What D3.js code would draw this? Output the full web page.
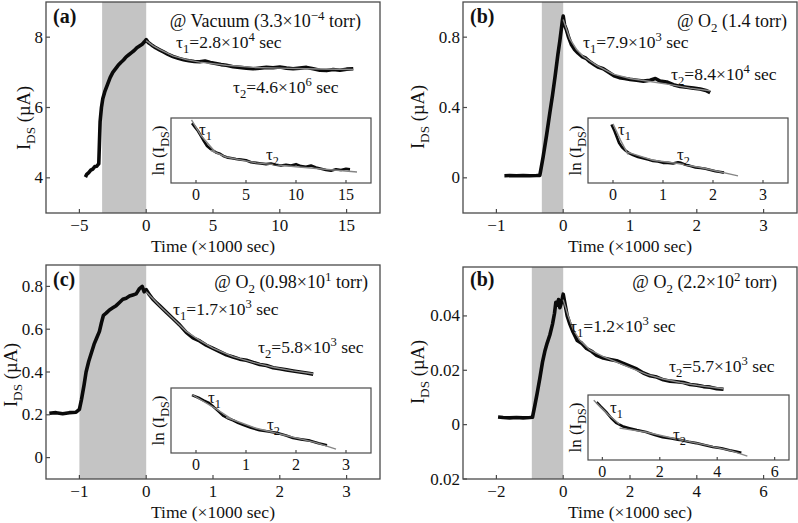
<!DOCTYPE html>
<meta charset="utf-8">
<style>
  body { margin: 0; background: #fff; }
  svg text { font-family: "Liberation Serif", "Times New Roman", serif; fill: #111; }
  .frame { fill: none; stroke: #4a4a4a; stroke-width: 1.3px; }
  .tick { stroke: #4a4a4a; stroke-width: 1.2px; }
  .shade { fill: #c4c4c4; }
  .data { fill: none; stroke: #0a0a0a; stroke-width: 3.6px; stroke-linejoin: round; }
  .fit { fill: none; stroke: #8a8a8a; stroke-width: 1.4px; }
  .idata { fill: none; stroke: #0a0a0a; stroke-width: 2.6px; stroke-linejoin: round; }
  .ifit { fill: none; stroke: #858585; stroke-width: 1.4px; }
</style>
<body>
<div id="chart"></div>
<script src="https://d3js.org/d3.v7.min.js"></script>
<script>
// ---- panel (a) : vacuum
var a_data = [[-4.55,4.02],[-4.45,4.1],[-4.3,4.15],[-4.15,4.22],[-4.0,4.25],[-3.85,4.32],[-3.7,4.33],[-3.6,4.38],[-3.55,4.4],[-3.5,5.0],[-3.45,5.6],[-3.35,6.0],[-3.25,6.25],[-3.1,6.45],[-2.9,6.65],[-2.7,6.85],[-2.5,7.0],[-2.3,7.1],[-2.1,7.2],[-1.9,7.28],[-1.7,7.35],[-1.5,7.44],[-1.3,7.5],[-1.1,7.56],[-0.9,7.62],[-0.7,7.7],[-0.5,7.75],[-0.3,7.8],[-0.15,7.86],[0,7.93],[0.15,7.85],[0.4,7.78],[0.7,7.7],[1.0,7.64],[1.3,7.58],[1.6,7.52],[2.0,7.45],[2.4,7.4],[2.8,7.36],[3.2,7.33],[3.6,7.31],[4.0,7.3],[4.4,7.32],[4.8,7.28],[5.2,7.25],[5.6,7.22],[6.0,7.2],[6.5,7.16],[7.0,7.14],[7.5,7.12],[8.0,7.1],[8.5,7.12],[9.0,7.14],[9.5,7.13],[10.0,7.15],[10.5,7.12],[11.0,7.1],[11.5,7.12],[12.0,7.14],[12.5,7.1],[13.0,7.06],[13.5,7.05],[14.0,7.08],[14.5,7.06],[15.0,7.09],[15.5,7.1]];
var a_fit = [[0,7.9],[0.5,7.76],[1,7.65],[2,7.47],[3,7.36],[4,7.29],[6,7.2],[8,7.14],[10,7.12],[12,7.1],[15.5,7.08]];
var a_inset = [[-0.4,0.92],[-0.1,0.86],[0.2,0.8],[0.5,0.72],[0.8,0.64],[1.1,0.57],[1.4,0.53],[1.7,0.5],[2.0,0.47],[2.4,0.45],[2.8,0.41],[3.2,0.39],[3.6,0.38],[4.0,0.37],[4.5,0.36],[5.0,0.35],[5.5,0.32],[6.0,0.31],[6.5,0.3],[7.0,0.29],[7.5,0.3],[8.0,0.28],[8.5,0.27],[9.0,0.28],[9.5,0.27],[10.0,0.29],[10.5,0.26],[11.0,0.25],[11.5,0.27],[12.0,0.24],[12.5,0.22],[13.0,0.2],[13.5,0.19],[14.0,0.21],[14.5,0.2],[15.0,0.22],[15.4,0.21]];
var a_ifit1 = [[-0.45,0.97],[0.5,0.73],[1.9,0.48]];
var a_ifit2 = [[1.5,0.5],[3,0.4],[6,0.31],[10,0.25],[16.1,0.17]];
var a_xticks = [-5, 0, 5, 10, 15];
var a_yticks = [4, 6, 8];
var a_ylabels = ["4", "6", "8"];
var a_ixticks = [0, 5, 10, 15];

// ---- panel (b) : O2 1.4 torr
var b_data = [[-0.88,0.012],[-0.8,0.013],[-0.7,0.012],[-0.6,0.013],[-0.5,0.012],[-0.4,0.013],[-0.35,0.014],[-0.3,0.12],[-0.25,0.24],[-0.2,0.37],[-0.16,0.47],[-0.12,0.58],[-0.08,0.7],[-0.05,0.78],[-0.03,0.84],[-0.01,0.9],[0,0.92],[0.02,0.87],[0.05,0.84],[0.08,0.8],[0.12,0.76],[0.17,0.73],[0.22,0.71],[0.28,0.69],[0.34,0.68],[0.4,0.66],[0.46,0.645],[0.52,0.63],[0.6,0.62],[0.68,0.6],[0.76,0.58],[0.84,0.57],[0.92,0.565],[1.0,0.56],[1.1,0.555],[1.2,0.55],[1.3,0.555],[1.38,0.565],[1.45,0.55],[1.55,0.545],[1.65,0.53],[1.75,0.52],[1.85,0.515],[1.95,0.51],[2.05,0.505],[2.15,0.495],[2.2,0.485]];
var b_fit = [[0,0.9],[0.1,0.79],[0.2,0.73],[0.3,0.69],[0.5,0.64],[0.75,0.59],[1,0.565],[1.3,0.548],[1.6,0.53],[1.9,0.51],[2.2,0.495]];
var b_inset = [[-0.03,0.9],[0.03,0.8],[0.08,0.7],[0.12,0.62],[0.18,0.55],[0.25,0.5],[0.32,0.46],[0.4,0.43],[0.5,0.4],[0.6,0.38],[0.7,0.36],[0.8,0.34],[0.9,0.33],[1.0,0.31],[1.1,0.31],[1.2,0.3],[1.3,0.32],[1.36,0.31],[1.45,0.28],[1.55,0.26],[1.65,0.24],[1.75,0.23],[1.85,0.22],[1.95,0.2],[2.05,0.18],[2.15,0.17],[2.22,0.16]];
var b_ifit1 = [[0,0.91],[0.15,0.66],[0.3,0.44]];
var b_ifit2 = [[0.3,0.47],[0.8,0.35],[1.3,0.3],[1.8,0.23],[2.5,0.11]];
var b_xticks = [-1, 0, 1, 2, 3];
var b_yticks = [0, 0.4, 0.8];
var b_ylabels = ["0", "0.4", "0.8"];
var b_ixticks = [0, 1, 2, 3];

// ---- panel (c) : O2 0.98x10^1 torr
var c_data = [[-1.45,0.207],[-1.35,0.21],[-1.25,0.205],[-1.15,0.21],[-1.05,0.212],[-1.0,0.225],[-0.97,0.27],[-0.93,0.34],[-0.9,0.4],[-0.86,0.45],[-0.82,0.49],[-0.78,0.53],[-0.74,0.56],[-0.7,0.59],[-0.67,0.63],[-0.64,0.665],[-0.6,0.675],[-0.55,0.69],[-0.5,0.7],[-0.45,0.71],[-0.4,0.725],[-0.35,0.74],[-0.3,0.745],[-0.25,0.755],[-0.2,0.76],[-0.15,0.765],[-0.1,0.79],[-0.06,0.8],[-0.03,0.775],[0,0.785],[0.05,0.76],[0.1,0.74],[0.15,0.725],[0.2,0.71],[0.3,0.68],[0.4,0.65],[0.5,0.62],[0.6,0.585],[0.7,0.56],[0.8,0.545],[0.9,0.525],[1.0,0.51],[1.1,0.495],[1.2,0.48],[1.3,0.47],[1.4,0.46],[1.5,0.455],[1.6,0.445],[1.7,0.435],[1.8,0.43],[1.9,0.42],[2.0,0.415],[2.1,0.41],[2.2,0.405],[2.3,0.4],[2.4,0.395],[2.5,0.39]];
var c_fit = [[0,0.775],[0.2,0.71],[0.4,0.65],[0.6,0.59],[0.8,0.548],[1.0,0.512],[1.3,0.472],[1.6,0.445],[1.9,0.422],[2.2,0.405],[2.5,0.392]];
var c_inset = [[-0.08,0.89],[0.05,0.85],[0.15,0.81],[0.26,0.77],[0.35,0.71],[0.45,0.64],[0.55,0.57],[0.65,0.53],[0.75,0.5],[0.85,0.46],[0.95,0.43],[1.1,0.39],[1.27,0.35],[1.45,0.33],[1.61,0.31],[1.8,0.27],[1.94,0.23],[2.1,0.21],[2.28,0.19],[2.45,0.15],[2.62,0.12]];
var c_ifit1 = [[-0.08,0.9],[0.4,0.68],[0.7,0.53]];
var c_ifit2 = [[0.6,0.55],[1.2,0.38],[1.8,0.27],[2.4,0.16],[2.8,0.06]];
var c_xticks = [-1, 0, 1, 2, 3];
var c_yticks = [0, 0.2, 0.4, 0.6, 0.8];
var c_ylabels = ["0", "0.2", "0.4", "0.6", "0.8"];
var c_ixticks = [0, 1, 2, 3];

// ---- panel (d) : O2 2.2x10^2 torr (labelled "(b)" in the figure)
var d_data = [[-1.95,0.0028],[-1.8,0.0026],[-1.6,0.0025],[-1.4,0.0026],[-1.2,0.0025],[-1.0,0.0026],[-0.92,0.0027],[-0.85,0.007],[-0.78,0.0115],[-0.7,0.017],[-0.62,0.023],[-0.55,0.027],[-0.48,0.03],[-0.4,0.033],[-0.32,0.037],[-0.26,0.041],[-0.22,0.045],[-0.18,0.044],[-0.14,0.046],[-0.1,0.043],[-0.05,0.045],[0,0.048],[0.06,0.044],[0.12,0.04],[0.2,0.037],[0.3,0.034],[0.42,0.031],[0.55,0.03],[0.7,0.028],[0.85,0.027],[1.0,0.0255],[1.2,0.0245],[1.4,0.024],[1.6,0.0235],[1.8,0.0225],[2.0,0.0215],[2.2,0.0205],[2.4,0.019],[2.6,0.018],[2.8,0.0175],[3.0,0.0165],[3.2,0.016],[3.4,0.0158],[3.6,0.0155],[3.8,0.0148],[4.0,0.0145],[4.2,0.014],[4.4,0.0138],[4.6,0.0132],[4.8,0.013]];
var d_fit = [[0,0.046],[0.15,0.04],[0.3,0.035],[0.5,0.031],[0.8,0.0275],[1.2,0.025],[1.6,0.023],[2.0,0.021],[2.5,0.0185],[3.0,0.0168],[3.5,0.0155],[4.0,0.0145],[4.8,0.0132]];
var d_inset = [[-0.2,0.89],[-0.05,0.82],[0.13,0.74],[0.3,0.65],[0.48,0.57],[0.7,0.52],[0.94,0.49],[1.2,0.46],[1.52,0.43],[1.8,0.39],[2.1,0.35],[2.4,0.33],[2.68,0.31],[3.0,0.28],[3.27,0.26],[3.55,0.23],[3.85,0.2],[4.15,0.18],[4.43,0.15],[4.65,0.13],[4.84,0.11]];
var d_ifit1 = [[-0.3,0.92],[0.2,0.7],[0.6,0.55]];
var d_ifit2 = [[0.6,0.49],[1.5,0.43],[2.5,0.33],[3.5,0.24],[4.5,0.14],[5.05,0.06]];
var d_xticks = [-2, 0, 2, 4, 6];
var d_yticks = [-0.02, 0, 0.02, 0.04];
var d_ylabels = ["0.02", "0", "0.02", "0.04"];
var d_ixticks = [0, 2, 4, 6];

var panels = [
  {tag: "(a)", cond: [["@ Vacuum (3.3×10"], ["−4", "sup"], [" torr)"]],
   tau1: [["τ"], ["1", "sub"], ["=2.8×10"], ["4", "sup"], [" sec"]],
   tau2: [["τ"], ["2", "sub"], ["=4.6×10"], ["6", "sup"], [" sec"]],
   box: [46, 380, 2, 213], xd: [-7.5, 17.5], yd: [3, 9], shade: [-3.3, 0],
   data: a_data, fit: a_fit, xticks: a_xticks, yticks: a_yticks, ylabels: a_ylabels,
   ibox: [171, 371, 118, 183], ixd: [-2.5, 17.5], inset: a_inset, ifit1: a_ifit1, ifit2: a_ifit2, ixticks: a_ixticks,
   tagPos: [53, 23], condEnd: [361, 27], t1Pos: [176, 48], t2Pos: [233, 93], it1: [199, 135], it2: [266, 160],
   ylab: [30, 118]},
  {tag: "(b)", cond: [["@ O"], ["2", "sub"], [" (1.4 torr)"]],
   tau1: [["τ"], ["1", "sub"], ["=7.9×10"], ["3", "sup"], [" sec"]],
   tau2: [["τ"], ["2", "sub"], ["=8.4×10"], ["4", "sup"], [" sec"]],
   box: [463, 797, 2, 213], xd: [-1.5, 3.5], yd: [-0.2, 1.0], shade: [-0.32, 0],
   data: b_data, fit: b_fit, xticks: b_xticks, yticks: b_yticks, ylabels: b_ylabels,
   ibox: [588, 788, 118, 183], ixd: [-0.5, 3.5], inset: b_inset, ifit1: b_ifit1, ifit2: b_ifit2, ixticks: b_ixticks,
   tagPos: [470, 23], condEnd: [787, 27], t1Pos: [583, 48], t2Pos: [671, 80], it1: [618, 135], it2: [677, 160],
   ylab: [424, 117]},
  {tag: "(c)", cond: [["@ O"], ["2", "sub"], [" (0.98×10"], ["1", "sup"], [" torr)"]],
   tau1: [["τ"], ["1", "sub"], ["=1.7×10"], ["3", "sup"], [" sec"]],
   tau2: [["τ"], ["2", "sub"], ["=5.8×10"], ["3", "sup"], [" sec"]],
   box: [46, 380, 265, 479], xd: [-1.5, 3.5], yd: [-0.1, 0.9], shade: [-1, 0],
   data: c_data, fit: c_fit, xticks: c_xticks, yticks: c_yticks, ylabels: c_ylabels,
   ibox: [171, 371, 388, 453], ixd: [-0.5, 3.5], inset: c_inset, ifit1: c_ifit1, ifit2: c_ifit2, ixticks: c_ixticks,
   tagPos: [53, 286], condEnd: [368, 288], t1Pos: [173, 315], t2Pos: [258, 353], it1: [208, 403], it2: [267, 430],
   ylab: [17, 375]},
  {tag: "(b)", cond: [["@ O"], ["2", "sub"], [" (2.2×10"], ["2", "sup"], [" torr)"]],
   tau1: [["τ"], ["1", "sub"], ["=1.2×10"], ["3", "sup"], [" sec"]],
   tau2: [["τ"], ["2", "sub"], ["=5.7×10"], ["3", "sup"], [" sec"]],
   box: [463, 797, 267, 479], xd: [-3, 7], yd: [-0.02, 0.058], shade: [-0.94, 0],
   data: d_data, fit: d_fit, xticks: d_xticks, yticks: d_yticks, ylabels: d_ylabels,
   ibox: [588, 789, 395, 460], ixd: [-0.5, 6.5], inset: d_inset, ifit1: d_ifit1, ifit2: d_ifit2, ixticks: d_ixticks,
   tagPos: [470, 286], condEnd: [777, 288], t1Pos: [570, 332], t2Pos: [669, 372], it1: [610, 413], it2: [673, 440],
   ylab: [424, 372]}
];

var svg = d3.select("#chart").append("svg")
  .attr("width", 798)
  .attr("height", 523);

// text with sub / superscripts built from tspans; each part shifts from the previous one
function rich(g, x, y, parts, size, anchor, transform) {
  var t = g.append("text")
    .attr("x", x).attr("y", y)
    .style("font-size", size + "px")
    .attr("text-anchor", anchor || "start");
  if (transform) t.attr("transform", transform);
  var cur = 0;
  parts.forEach(function(p) {
    var off = p[1] == "sub" ? size * 0.28 : p[1] == "sup" ? -size * 0.4 : 0;
    var s = t.append("tspan").text(p[0]).attr("dy", off - cur);
    if (p[1]) s.style("font-size", (size * 0.72) + "px");
    cur = off;
  });
  return t;
}

var line = d3.line();

panels.forEach(function(p) {
  var g = svg.append("g");
  var x = d3.scaleLinear().domain(p.xd).range([p.box[0], p.box[1]]);
  var y = d3.scaleLinear().domain(p.yd).range([p.box[3], p.box[2]]);

  g.append("rect").attr("class", "shade")
    .attr("x", x(p.shade[0])).attr("width", x(p.shade[1]) - x(p.shade[0]))
    .attr("y", p.box[2]).attr("height", p.box[3] - p.box[2]);

  line.x(function(d) { return x(d[0]); }).y(function(d) { return y(d[1]); });
  g.append("path").attr("class", "data").attr("d", line(p.data));
  g.append("path").attr("class", "fit").attr("d", line(p.fit));

  // ticks point inward, left and bottom only
  g.selectAll(".xt").data(p.xticks).enter().append("line").attr("class", "tick")
    .attr("x1", function(d) { return x(d); }).attr("x2", function(d) { return x(d); })
    .attr("y1", p.box[3]).attr("y2", p.box[3] - 4);
  g.selectAll(".xl").data(p.xticks).enter().append("text")
    .attr("x", function(d) { return x(d); }).attr("y", p.box[3] + 18)
    .attr("text-anchor", "middle").style("font-size", "17px")
    .text(function(d) { return d < 0 ? "\u2212" + (-d) : d; });
  g.selectAll(".yt").data(p.yticks).enter().append("line").attr("class", "tick")
    .attr("x1", p.box[0]).attr("x2", p.box[0] + 4)
    .attr("y1", function(d) { return y(d); }).attr("y2", function(d) { return y(d); });
  g.selectAll(".yl").data(p.yticks).enter().append("text")
    .attr("x", p.box[0] - 3).attr("y", function(d) { return y(d) + 5.5; })
    .attr("text-anchor", "end").style("font-size", "17px")
    .text(function(d, i) { return p.ylabels[i]; });

  g.append("rect").attr("class", "frame")
    .attr("x", p.box[0]).attr("y", p.box[2])
    .attr("width", p.box[1] - p.box[0]).attr("height", p.box[3] - p.box[2]);

  // annotations
  g.append("text").attr("x", p.tagPos[0]).attr("y", p.tagPos[1])
    .style("font-size", "20px").style("font-weight", "bold").text(p.tag);
  rich(g, p.condEnd[0], p.condEnd[1], p.cond, 18, "end");
  rich(g, p.t1Pos[0], p.t1Pos[1], p.tau1, 17.5);
  rich(g, p.t2Pos[0], p.t2Pos[1], p.tau2, 17.5);

  rich(g, 0, 0, [["I"], ["DS", "sub"], [" (µA)"]], 18.5, "middle",
    "translate(" + p.ylab[0] + "," + p.ylab[1] + ") rotate(-90)");
  g.append("text").attr("x", (p.box[0] + p.box[1]) / 2).attr("y", p.box[3] + 39)
    .attr("text-anchor", "middle").style("font-size", "17.5px").text("Time (×1000 sec)");

  // inset
  var ix = d3.scaleLinear().domain(p.ixd).range([p.ibox[0], p.ibox[1]]);
  var iy = d3.scaleLinear().domain([0, 1]).range([p.ibox[3], p.ibox[2]]);
  g.append("rect").attr("x", p.ibox[0]).attr("y", p.ibox[2])
    .attr("width", p.ibox[1] - p.ibox[0]).attr("height", p.ibox[3] - p.ibox[2])
    .attr("fill", "#fff");
  line.x(function(d) { return ix(d[0]); }).y(function(d) { return iy(d[1]); });
  g.append("path").attr("class", "idata").attr("d", line(p.inset));
  g.append("path").attr("class", "ifit").attr("d", line(p.ifit1));
  g.append("path").attr("class", "ifit").attr("d", line(p.ifit2));
  g.selectAll(".ixt").data(p.ixticks).enter().append("line").attr("class", "tick")
    .attr("x1", function(d) { return ix(d); }).attr("x2", function(d) { return ix(d); })
    .attr("y1", p.ibox[3]).attr("y2", p.ibox[3] - 3);
  g.selectAll(".ixl").data(p.ixticks).enter().append("text")
    .attr("x", function(d) { return ix(d); }).attr("y", p.ibox[3] + 17)
    .attr("text-anchor", "middle").style("font-size", "16px").text(function(d) { return d; });
  g.append("rect").attr("class", "frame").style("stroke-width", "1.2px")
    .attr("x", p.ibox[0]).attr("y", p.ibox[2])
    .attr("width", p.ibox[1] - p.ibox[0]).attr("height", p.ibox[3] - p.ibox[2]);
  rich(g, 0, 0, [["ln (I"], ["DS", "sub"], [")"]], 17, "middle",
    "translate(" + (p.ibox[0] - 7) + "," + ((p.ibox[2] + p.ibox[3]) / 2) + ") rotate(-90)");
  rich(g, p.it1[0], p.it1[1], [["τ"], ["1", "sub"]], 17);
  rich(g, p.it2[0], p.it2[1], [["τ"], ["2", "sub"]], 17);
});
</script>
</body>
</html>
